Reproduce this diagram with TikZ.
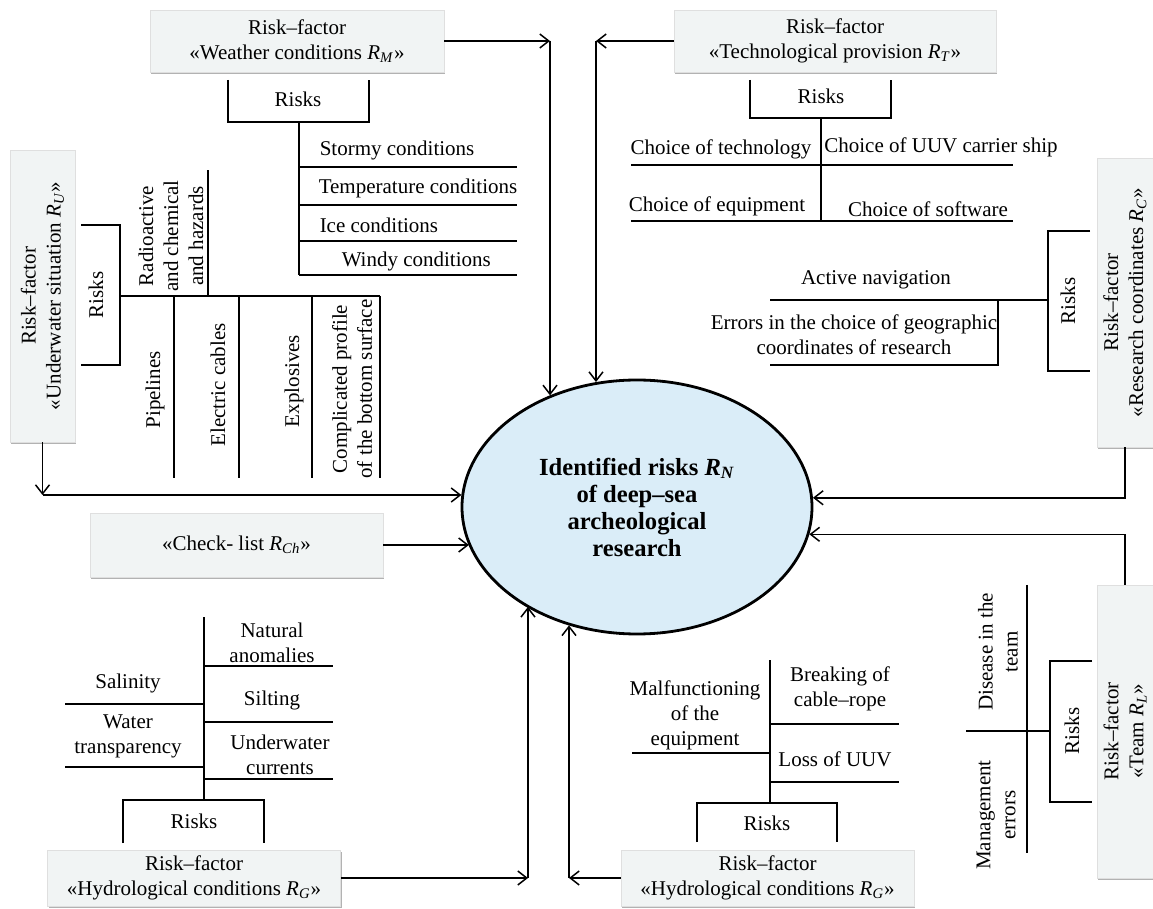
\documentclass[tikz,border=0pt]{standalone}
\usepackage{fontspec}
\setmainfont{Liberation Serif}
\usetikzlibrary{arrows.meta,shapes.geometric,shadows}
\definecolor{boxfill}{RGB}{241,244,244}
\definecolor{goalfill}{RGB}{218,237,248}
\newcommand{\Rsub}[1]{\textit{R}\textsubscript{\textit{#1}}}

\begin{document}
\begin{tikzpicture}[x=0.5pt, y=-0.5pt, line width=0.75pt, >={Straight Barb[length=4.5pt,width=7pt]}, font=\fontsize{10.5}{12.5}\selectfont]
	\tikzstyle{factor}=[draw=gray!25, fill=boxfill, align=center, inner sep=0pt, line width=0.4pt, drop shadow={shadow xshift=0.7pt, shadow yshift=-1pt, fill=gray!60, opacity=1}]
	\tikzstyle{hfactor}=[factor, minimum width=146.5pt, minimum height=31pt]
	\tikzstyle{vfactor}=[factor, rotate=90, minimum width=145pt, minimum height=28pt]
	\tikzstyle{item}=[align=center, inner sep=1pt]
	\tikzstyle{vitem}=[item, rotate=90]
	\tikzstyle{target}=[draw, ellipse, line width=1.4pt, fill=goalfill, align=center, inner sep=0pt, minimum width=175pt, minimum height=127pt, font=\bfseries\fontsize{12.3}{13.5}\selectfont]

	\useasboundingbox (0,0) rectangle (1153,909);

	\node[target] (goal) at (637,507) {Identified risks \Rsub{N}\\of deep–sea\\archeological\\research};

	\node[hfactor, minimum width=147pt] (wea) at (297,41) {Risk–factor\\«Weather conditions \Rsub{M}»};
	\node[item] (wearisk) at (298,99) {Risks};
	\draw (228,80) |- (369,122) -- (369,80);
	\draw (299,122) -- (299,275);
	\foreach \y in {167,205,241,275} \draw (299,\y) -- (517,\y);
	\node[item, anchor=west] (storm) at (317,150) {Stormy conditions};
	\node[item, anchor=west] (temp) at (316,188) {Temperature conditions};
	\node[item, anchor=west] (ice) at (317,225) {Ice conditions};
	\node[item, anchor=west] (wind) at (339,261) {Windy conditions};
	\coordinate (weacorner) at (550,41);
	\draw[->] (wea) -- (weacorner);
	\draw[->] (weacorner) -- (weacorner |- goal.128);

	\node[hfactor, minimum width=161pt] (tech) at (835,41) {Risk–factor\\«Technological provision \Rsub{T}»};
	\node[item] (techrisk) at (821,96) {Risks};
	\draw (750,80) |- (891,118) -- (891,80);
	\draw (821,118) -- (821,221);
	\foreach \y in {165,221} \draw (631,\y) -- (1013,\y);
	\node[item] (techno) at (721,149) {Choice of technology};
	\node[item] (ship) at (941,147) {Choice of UUV carrier ship};
	\node[item] (equip) at (717,206) {Choice of equipment};
	\node[item] (soft) at (928,209) {Choice of software};
	\coordinate (techcorner) at (596,41);
	\draw[->] (tech) -- (techcorner);
	\draw[->] (techcorner) -- (techcorner |- goal.108);

	\node[vfactor, minimum width=144.5pt] (res) at (1125,302.5) {Risk–factor\\«Research coordinates \Rsub{C}»};
	\node[vitem] (resrisk) at (1068,301) {Risks};
	\draw (1090,231) -| (1048,371) -- (1090,371);
	\draw (1048,300) -- (770,300);
	\draw (998,300) |- (770,365);
	\node[item] (nav) at (876,280) {Active navigation};
	\node[item] (geo) at (854,335) {Errors in the choice of geographic\\coordinates of research};
	\draw[->] (res.west) |- (goal.3);

	\node[vfactor, minimum width=146.5pt] (team) at (1125,731.5) {Risk–factor\\«Team \Rsub{L}»};
	\node[vitem] (teamrisk) at (1072,731) {Risks};
	\draw (1092,661) -| (1050,802) -- (1092,802);
	\draw (1050,731) -- (966,731);
	\draw (1027,585) -- (1027,853);
	\node[vitem] (disease) at (998,652) {Disease in the\\team};
	\node[vitem] (manage) at (996,815) {Management\\errors};
	\draw[->] (team.east) |- (goal.351);

	\node[vfactor, minimum width=146pt, minimum height=32.5pt] (und) at (42.5,296) {Risk–factor\\«Underwater situation \Rsub{U}»};
	\node[vitem] (undrisk) at (96,295) {Risks};
	\draw (81,225) -| (120,365) -- (81,365);
	\draw (120,296) -- (380,296);
	\draw (208,296) -- (208,170);
	\foreach \x in {174,239,312,380} \draw (\x,296) -- (\x,478);
	\node[vitem] (radio) at (171,236) {Radioactive\\and chemical\\and hazards};
	\node[vitem] (pipe) at (155,390) {Pipelines};
	\node[vitem] (cable) at (218,385) {Electric cables};
	\node[vitem] (expl) at (294,381) {Explosives};
	\node[vitem] (relief) at (352,389) {Complicated profile\\of the bottom surface};
	\coordinate (undcorner) at (und.west |- 0,495);
	\draw[->] (und.west) -- (undcorner);
	\draw[->] (undcorner) -- (undcorner -| goal.176);

	\node[hfactor, minimum height=32pt] (check) at (236.5,545) {«Check- list \Rsub{Ch}»};
	\draw[->] (check) -- (check -| goal.193);

	\node[hfactor, minimum height=28pt] (hydl) at (194,878) {Risk–factor\\«Hydrological conditions \Rsub{G}»};
	\node[item] (hydlrisk) at (194,821) {Risks};
	\draw (123,843) |- (264,800) -- (264,843);
	\draw (204,800) -- (204,617);
	\foreach \y in {666,722,779} \draw (204,\y) -- (333,\y);
	\foreach \y in {704,767} \draw (65,\y) -- (204,\y);
	\node[item] (natural) at (272,643) {Natural\\anomalies};
	\node[item] (silt) at (272,700) {Silting};
	\node[item] (current) at (280,755) {Underwater\\currents};
	\node[item] (salt) at (128,683) {Salinity};
	\node[item] (clear) at (128,736) {Water\\transparency};
	\coordinate (hydlcorner) at (528,878);
	\draw[->] (hydl) -- (hydlcorner);
	\draw[->] (hydlcorner) -- (hydlcorner |- goal.222);

	\node[hfactor, minimum height=28pt] (hydr) at (767.5,878) {Risk–factor\\«Hydrological conditions \Rsub{G}»};
	\node[item] (hydrrisk) at (767,823) {Risks};
	\draw (697,842) |- (837,803) -- (837,842);
	\draw (770,803) -- (770,660);
	\foreach \y in {724,782} \draw (770,\y) -- (899,\y);
	\draw (632,753) -- (770,753);
	\node[item] (rope) at (840,689) {Breaking of\\cable–rope};
	\node[item] (lost) at (835,759) {Loss of UUV};
	\node[item] (fault) at (695,715) {Malfunctioning\\of the\\equipment};
	\coordinate (hydrcorner) at (569,878);
	\draw[->] (hydr) -- (hydrcorner);
	\draw[->] (hydrcorner) -- (hydrcorner |- goal.240);
\end{tikzpicture}
\end{document}
